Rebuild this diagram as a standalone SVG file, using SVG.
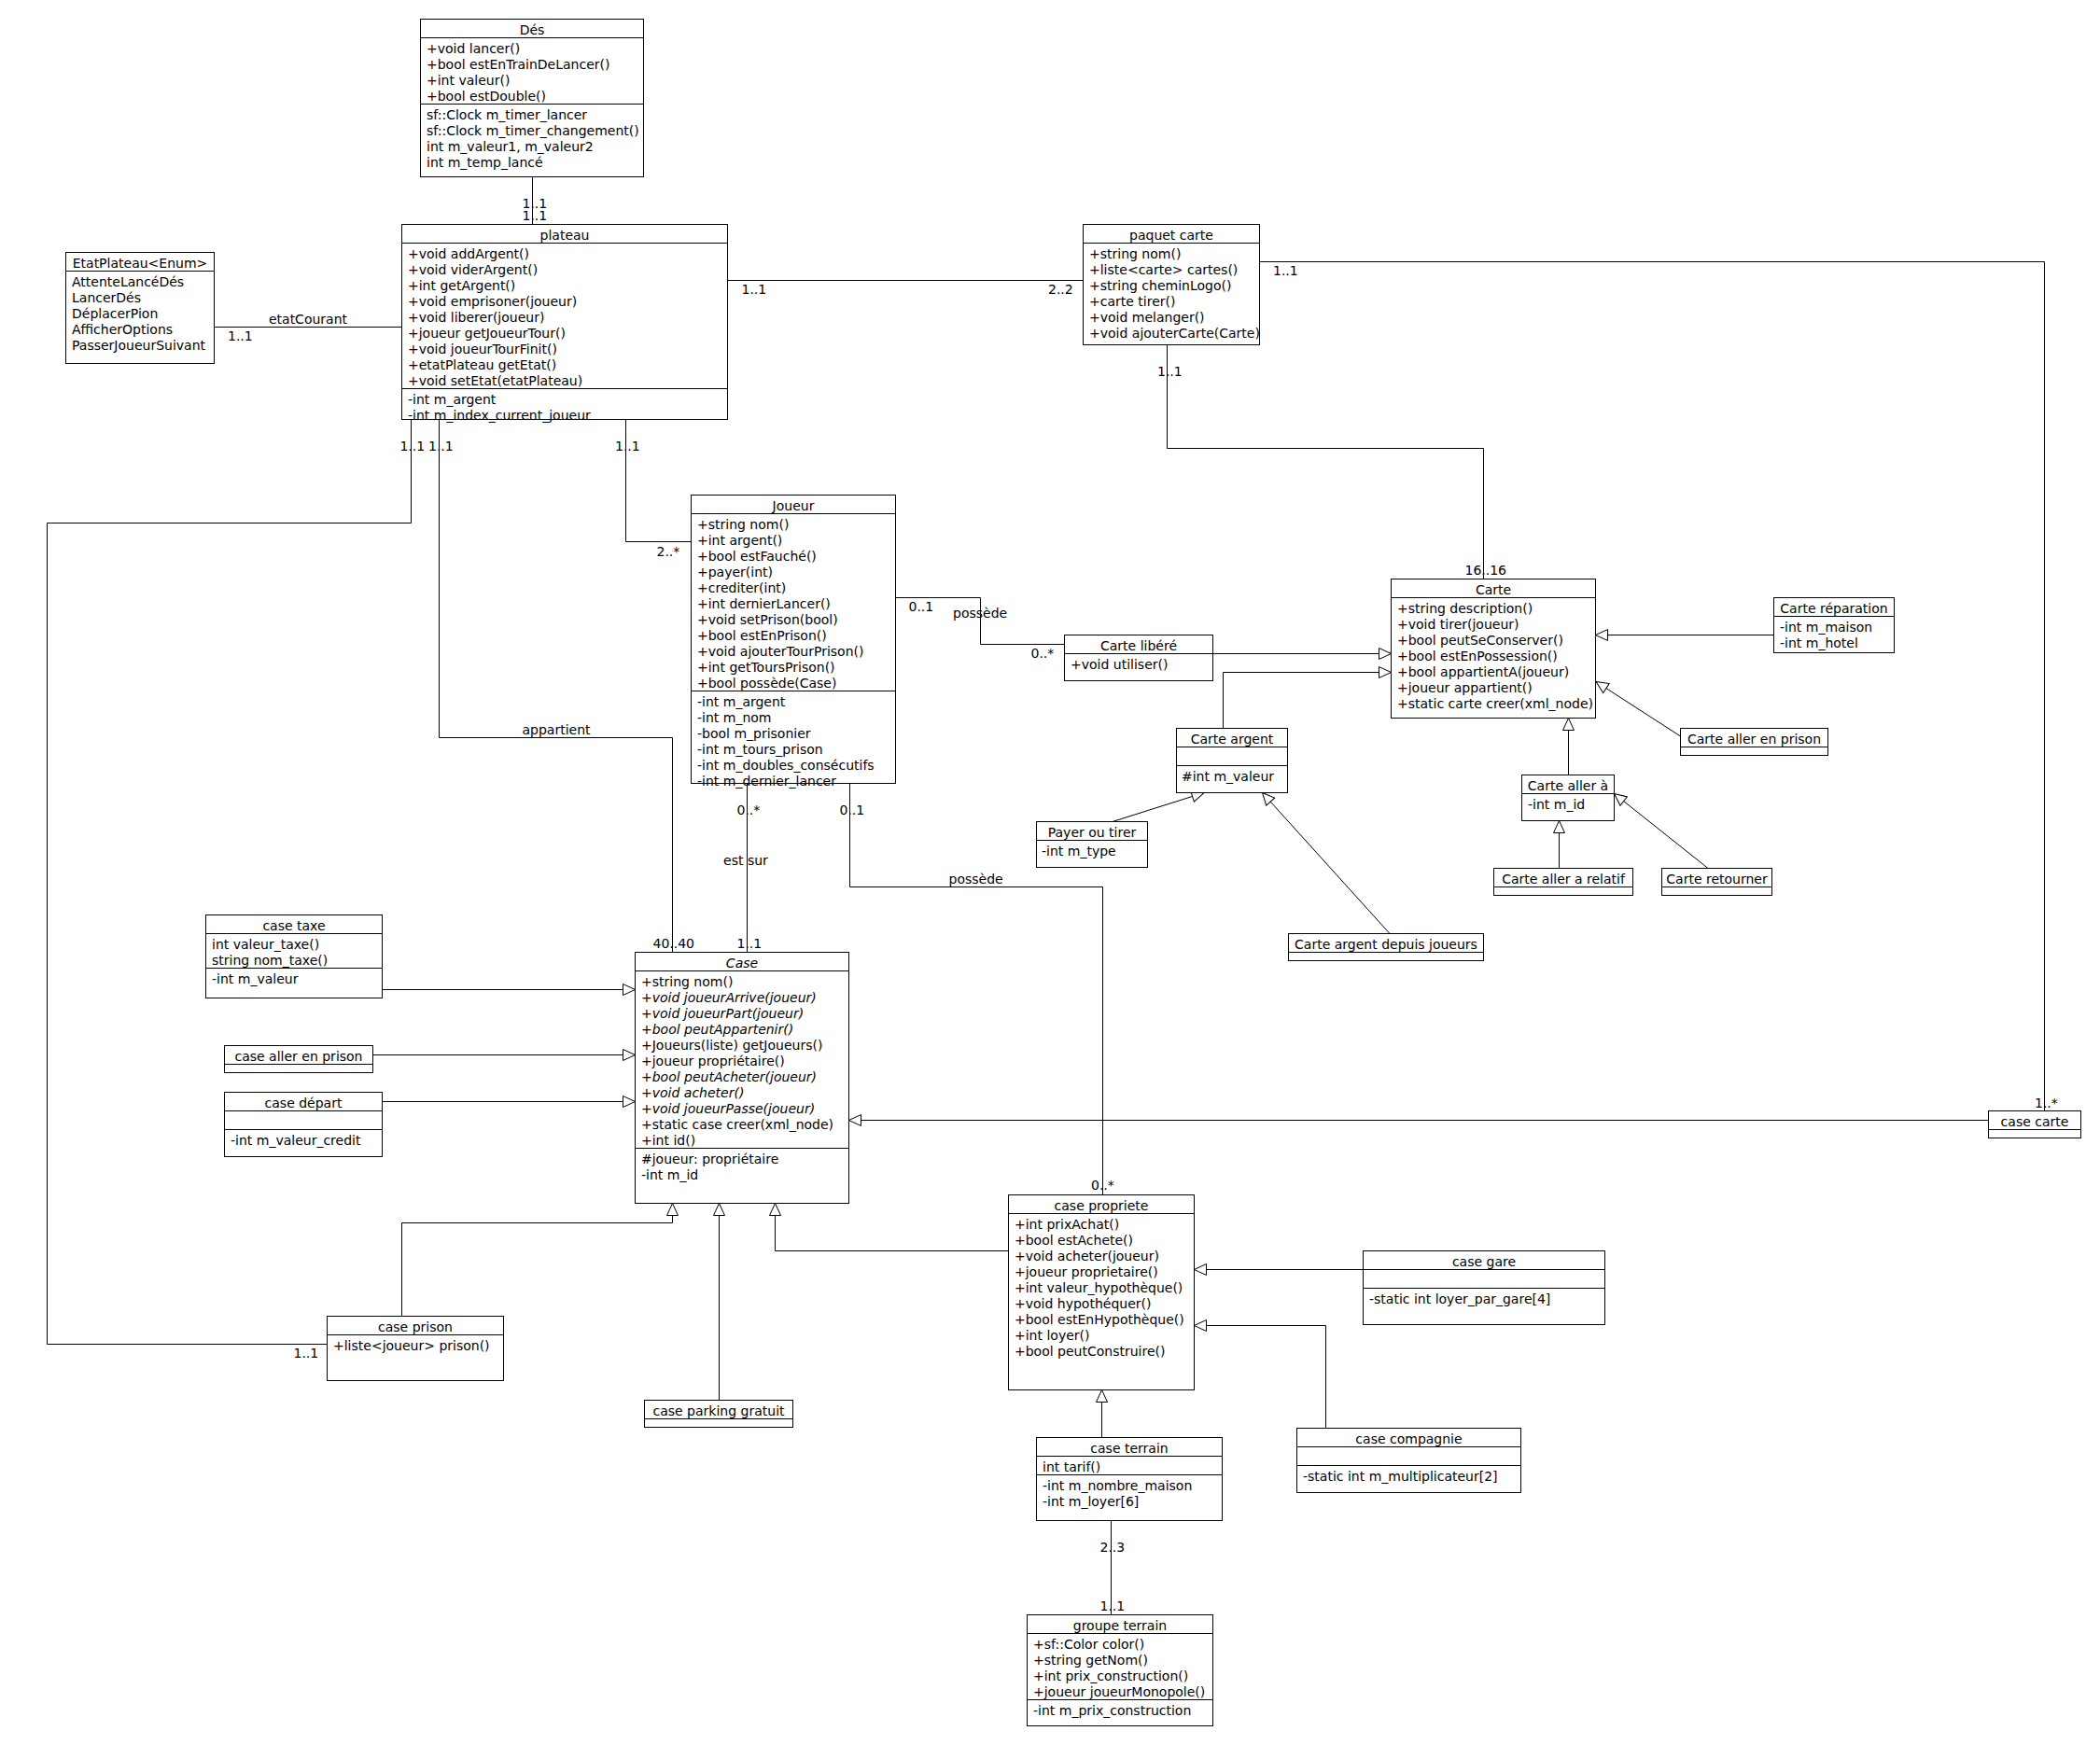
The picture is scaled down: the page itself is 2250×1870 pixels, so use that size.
<svg xmlns="http://www.w3.org/2000/svg" width="2250" height="1870" viewBox="0 0 2250 1870">
<style>
text{font-family:"DejaVu Sans","Liberation Sans",sans-serif;font-size:14px;fill:#000}
.h{text-anchor:middle}
.i{font-style:italic}
.b{fill:#fff;stroke:#000;stroke-width:1}
.sep{fill:none;stroke:#000;stroke-width:1}
.c{fill:none;stroke:#000;stroke-width:1}
.g{fill:none;stroke:#000;stroke-width:1;marker-end:url(#tri)}
</style>
<defs>
<marker id="tri" markerUnits="userSpaceOnUse" viewBox="-1 -1 16 14" markerWidth="16" markerHeight="14" refX="13" refY="6" orient="auto">
<path d="M0,0 L13,6 L0,12 Z" fill="#fff" stroke="#000" stroke-width="1"/>
</marker>
</defs>
<rect x="0" y="0" width="2250" height="1870" fill="#fff" stroke="none"/>

<g id="connectors">
<!-- Dés - plateau -->
<path class="c" d="M570.5,189.5 V240.5"/>
<text x="559.5" y="222.5">1..1</text>
<text x="559.5" y="235.5">1..1</text>
<!-- EtatPlateau - plateau -->
<path class="c" d="M229.5,350.5 H430.5"/>
<text class="h" x="330" y="346.5">etatCourant</text>
<text x="244" y="364.5">1..1</text>
<!-- plateau - paquet carte -->
<path class="c" d="M779.5,300.5 H1160.5"/>
<text x="794.5" y="315">1..1</text>
<text x="1123" y="315">2..2</text>
<!-- paquet carte - case carte -->
<path class="c" d="M1349.5,280.5 H2190.5 V1190.5"/>
<text x="1364" y="294.5">1..1</text>
<text x="2180" y="1187">1..*</text>
<!-- paquet carte - Carte -->
<path class="c" d="M1250.5,369.5 V480.5 H1589.5 V620.5"/>
<text x="1240" y="403">1..1</text>
<text x="1569.5" y="616">16..16</text>
<!-- plateau - case prison -->
<path class="c" d="M440.5,449.5 V560.5 H50.5 V1440.5 H350.5"/>
<text x="428.5" y="482.5">1..1</text>
<text x="314.5" y="1455">1..1</text>
<!-- plateau - Case (appartient) -->
<path class="c" d="M470.5,449.5 V790.5 H720.5 V1020.5"/>
<text x="459" y="482.5">1..1</text>
<text class="h" x="596" y="786.5">appartient</text>
<text x="699.5" y="1015.5">40..40</text>
<!-- plateau - Joueur -->
<path class="c" d="M670.5,449.5 V580.5 H740.5"/>
<text x="659" y="482.5">1..1</text>
<text x="703.5" y="595.5">2..*</text>
<!-- Joueur - Case (est sur) -->
<path class="c" d="M800.5,839.5 V1020.5"/>
<text x="789.5" y="872.5">0..*</text>
<text class="h" x="799" y="927">est sur</text>
<text x="789.5" y="1015.5">1..1</text>
<!-- Joueur - case propriete (possède) -->
<path class="c" d="M910.5,839.5 V950.5 H1181.5 V1280.5"/>
<text x="899.5" y="873">0..1</text>
<text x="1016.5" y="947">possède</text>
<text x="1169" y="1275">0..*</text>
<!-- Joueur - Carte libéré (possède) -->
<path class="c" d="M959.5,640.5 H1050.5 V690.5 H1140.5"/>
<text x="973.5" y="655">0..1</text>
<text x="1021" y="662">possède</text>
<text x="1104.5" y="705">0..*</text>
<!-- Carte inheritance -->
<path class="g" d="M1299.5,700.5 H1490.5"/>
<path class="g" d="M1310.5,780.5 V720.5 H1490.5"/>
<path class="g" d="M1900.5,680.5 H1709.5"/>
<path class="g" d="M1800.5,789 L1710,730.5"/>
<path class="g" d="M1680.5,830.5 V769.5"/>
<path class="g" d="M1670.5,930.5 V879.5"/>
<path class="g" d="M1830,930.5 L1729.5,850.5"/>
<path class="g" d="M1192,880.5 L1290,849.5"/>
<path class="g" d="M1489,1000.5 L1352.5,849.5"/>
<!-- Case inheritance -->
<path class="g" d="M409.5,1060.5 H680.5"/>
<path class="g" d="M399.5,1130.5 H680.5"/>
<path class="g" d="M409.5,1180.5 H680.5"/>
<path class="g" d="M2130.5,1200.5 H909.5"/>
<path class="g" d="M430.5,1410.5 V1310.5 H720.5 V1289.5"/>
<path class="g" d="M770.5,1500.5 V1289.5"/>
<path class="g" d="M1080.5,1340.5 H830.5 V1289.5"/>
<!-- case propriete inheritance -->
<path class="g" d="M1460.5,1360.5 H1279.5"/>
<path class="g" d="M1420.5,1530.5 V1420.5 H1279.5"/>
<path class="g" d="M1180.5,1540.5 V1489.5"/>
<!-- case terrain - groupe terrain -->
<path class="c" d="M1190.5,1629.5 V1730.5"/>
<text x="1178.5" y="1662.5">2..3</text>
<text x="1178.5" y="1725.5">1..1</text>
</g>

<g id="des">
<rect class="b" x="450.5" y="20.5" width="239" height="169"/>
<path class="sep" d="M450.5,40.5 H689.5 M450.5,111.5 H689.5"/>
<text class="h" x="570" y="37">Dés</text>
<text x="457" y="57">+void lancer()</text>
<text x="457" y="74">+bool estEnTrainDeLancer()</text>
<text x="457" y="91">+int valeur()</text>
<text x="457" y="108">+bool estDouble()</text>
<text x="457" y="128">sf::Clock m_timer_lancer</text>
<text x="457" y="145">sf::Clock m_timer_changement()</text>
<text x="457" y="162">int m_valeur1, m_valeur2</text>
<text x="457" y="179">int m_temp_lancé</text>
</g>

<g id="etatplateau">
<rect class="b" x="70.5" y="270.5" width="159" height="119"/>
<path class="sep" d="M70.5,290.5 H229.5"/>
<text class="h" x="150" y="287">EtatPlateau&lt;Enum&gt;</text>
<text x="77" y="307">AttenteLancéDés</text>
<text x="77" y="324">LancerDés</text>
<text x="77" y="341">DéplacerPion</text>
<text x="77" y="358">AfficherOptions</text>
<text x="77" y="375">PasserJoueurSuivant</text>
</g>

<g id="plateau">
<rect class="b" x="430.5" y="240.5" width="349" height="209"/>
<path class="sep" d="M430.5,260.5 H779.5 M430.5,416.5 H779.5"/>
<text class="h" x="605" y="257">plateau</text>
<text x="437" y="277">+void addArgent()</text>
<text x="437" y="294">+void viderArgent()</text>
<text x="437" y="311">+int getArgent()</text>
<text x="437" y="328">+void emprisoner(joueur)</text>
<text x="437" y="345">+void liberer(joueur)</text>
<text x="437" y="362">+joueur getJoueurTour()</text>
<text x="437" y="379">+void joueurTourFinit()</text>
<text x="437" y="396">+etatPlateau getEtat()</text>
<text x="437" y="413">+void setEtat(etatPlateau)</text>
<text x="437" y="433">-int m_argent</text>
<text x="437" y="450">-int m_index_current_joueur</text>
</g>

<g id="paquet-carte">
<rect class="b" x="1160.5" y="240.5" width="189" height="129"/>
<path class="sep" d="M1160.5,260.5 H1349.5"/>
<text class="h" x="1255" y="257">paquet carte</text>
<text x="1167" y="277">+string nom()</text>
<text x="1167" y="294">+liste&lt;carte&gt; cartes()</text>
<text x="1167" y="311">+string cheminLogo()</text>
<text x="1167" y="328">+carte tirer()</text>
<text x="1167" y="345">+void melanger()</text>
<text x="1167" y="362">+void ajouterCarte(Carte)</text>
</g>

<g id="joueur">
<rect class="b" x="740.5" y="530.5" width="219" height="309"/>
<path class="sep" d="M740.5,550.5 H959.5 M740.5,740.5 H959.5"/>
<text class="h" x="850" y="547">Joueur</text>
<text x="747" y="567">+string nom()</text>
<text x="747" y="584">+int argent()</text>
<text x="747" y="601">+bool estFauché()</text>
<text x="747" y="618">+payer(int)</text>
<text x="747" y="635">+crediter(int)</text>
<text x="747" y="652">+int dernierLancer()</text>
<text x="747" y="669">+void setPrison(bool)</text>
<text x="747" y="686">+bool estEnPrison()</text>
<text x="747" y="703">+void ajouterTourPrison()</text>
<text x="747" y="720">+int getToursPrison()</text>
<text x="747" y="737">+bool possède(Case)</text>
<text x="747" y="757">-int m_argent</text>
<text x="747" y="774">-int m_nom</text>
<text x="747" y="791">-bool m_prisonier</text>
<text x="747" y="808">-int m_tours_prison</text>
<text x="747" y="825">-int m_doubles_consécutifs</text>
<text x="747" y="842">-int m_dernier_lancer</text>
</g>

<g id="carte">
<rect class="b" x="1490.5" y="620.5" width="219" height="149"/>
<path class="sep" d="M1490.5,640.5 H1709.5"/>
<text class="h" x="1600" y="637">Carte</text>
<text x="1497" y="657">+string description()</text>
<text x="1497" y="674">+void tirer(joueur)</text>
<text x="1497" y="691">+bool peutSeConserver()</text>
<text x="1497" y="708">+bool estEnPossession()</text>
<text x="1497" y="725">+bool appartientA(joueur)</text>
<text x="1497" y="742">+joueur appartient()</text>
<text x="1497" y="759">+static carte creer(xml_node)</text>
</g>

<g id="carte-libere">
<rect class="b" x="1140.5" y="680.5" width="159" height="49"/>
<path class="sep" d="M1140.5,700.5 H1299.5"/>
<text class="h" x="1220" y="697">Carte libéré</text>
<text x="1147" y="717">+void utiliser()</text>
</g>

<g id="carte-reparation">
<rect class="b" x="1900.5" y="640.5" width="129" height="59"/>
<path class="sep" d="M1900.5,660.5 H2029.5"/>
<text class="h" x="1965" y="657">Carte réparation</text>
<text x="1907" y="677">-int m_maison</text>
<text x="1907" y="694">-int m_hotel</text>
</g>

<g id="carte-argent">
<rect class="b" x="1260.5" y="780.5" width="119" height="69"/>
<path class="sep" d="M1260.5,800.5 H1379.5 M1260.5,820.5 H1379.5"/>
<text class="h" x="1320" y="797">Carte argent</text>
<text x="1266" y="837">#int m_valeur</text>
</g>

<g id="carte-aller-en-prison">
<rect class="b" x="1800.5" y="780.5" width="158" height="29"/>
<path class="sep" d="M1800.5,800.5 H1958.5"/>
<text class="h" x="1879.5" y="797">Carte aller en prison</text>
</g>

<g id="carte-aller-a">
<rect class="b" x="1630.5" y="830.5" width="99" height="49"/>
<path class="sep" d="M1630.5,850.5 H1729.5"/>
<text class="h" x="1680" y="847">Carte aller à</text>
<text x="1637" y="867">-int m_id</text>
</g>

<g id="carte-aller-a-relatif">
<rect class="b" x="1600.5" y="930.5" width="149" height="29"/>
<path class="sep" d="M1600.5,950.5 H1749.5"/>
<text class="h" x="1675" y="947">Carte aller a relatif</text>
</g>

<g id="carte-retourner">
<rect class="b" x="1780.5" y="930.5" width="118" height="29"/>
<path class="sep" d="M1780.5,950.5 H1898.5"/>
<text class="h" x="1839.5" y="947">Carte retourner</text>
</g>

<g id="payer-ou-tirer">
<rect class="b" x="1110.5" y="880.5" width="119" height="49"/>
<path class="sep" d="M1110.5,900.5 H1229.5"/>
<text class="h" x="1170" y="897">Payer ou tirer</text>
<text x="1116" y="917">-int m_type</text>
</g>

<g id="carte-argent-depuis-joueurs">
<rect class="b" x="1380.5" y="1000.5" width="209" height="29"/>
<path class="sep" d="M1380.5,1020.5 H1589.5"/>
<text class="h" x="1485" y="1017">Carte argent depuis joueurs</text>
</g>

<g id="case">
<rect class="b" x="680.5" y="1020.5" width="229" height="269"/>
<path class="sep" d="M680.5,1040.5 H909.5 M680.5,1230.5 H909.5"/>
<text class="h i" x="795" y="1037">Case</text>
<text x="687" y="1057">+string nom()</text>
<text class="i" x="687" y="1074">+void joueurArrive(joueur)</text>
<text class="i" x="687" y="1091">+void joueurPart(joueur)</text>
<text class="i" x="687" y="1108">+bool peutAppartenir()</text>
<text x="687" y="1125">+Joueurs(liste) getJoueurs()</text>
<text x="687" y="1142">+joueur propriétaire()</text>
<text class="i" x="687" y="1159">+bool peutAcheter(joueur)</text>
<text class="i" x="687" y="1176">+void acheter()</text>
<text class="i" x="687" y="1193">+void joueurPasse(joueur)</text>
<text x="687" y="1210">+static case creer(xml_node)</text>
<text x="687" y="1227">+int id()</text>
<text x="687" y="1247">#joueur: propriétaire</text>
<text x="687" y="1264">-int m_id</text>
</g>

<g id="case-taxe">
<rect class="b" x="220.5" y="980.5" width="189" height="89"/>
<path class="sep" d="M220.5,1000.5 H409.5 M220.5,1037.5 H409.5"/>
<text class="h" x="315" y="997">case taxe</text>
<text x="227" y="1016.5">int valeur_taxe()</text>
<text x="227" y="1033.5">string nom_taxe()</text>
<text x="227" y="1054">-int m_valeur</text>
</g>

<g id="case-aller-en-prison">
<rect class="b" x="240.5" y="1120.5" width="159" height="29"/>
<path class="sep" d="M240.5,1140.5 H399.5"/>
<text class="h" x="320" y="1137">case aller en prison</text>
</g>

<g id="case-depart">
<rect class="b" x="240.5" y="1170.5" width="169" height="69"/>
<path class="sep" d="M240.5,1190.5 H409.5 M240.5,1210.5 H409.5"/>
<text class="h" x="325" y="1187">case départ</text>
<text x="247" y="1226.5">-int m_valeur_credit</text>
</g>

<g id="case-carte">
<rect class="b" x="2130.5" y="1190.5" width="99" height="29"/>
<path class="sep" d="M2130.5,1210.5 H2229.5"/>
<text class="h" x="2180" y="1207">case carte</text>
</g>

<g id="case-prison">
<rect class="b" x="350.5" y="1410.5" width="189" height="69"/>
<path class="sep" d="M350.5,1430.5 H539.5"/>
<text class="h" x="445" y="1427">case prison</text>
<text x="357" y="1446.5">+liste&lt;joueur&gt; prison()</text>
</g>

<g id="case-parking-gratuit">
<rect class="b" x="690.5" y="1500.5" width="159" height="29"/>
<path class="sep" d="M690.5,1520.5 H849.5"/>
<text class="h" x="770" y="1517">case parking gratuit</text>
</g>

<g id="case-propriete">
<rect class="b" x="1080.5" y="1280.5" width="199" height="209"/>
<path class="sep" d="M1080.5,1300.5 H1279.5"/>
<text class="h" x="1180" y="1297">case propriete</text>
<text x="1087" y="1317">+int prixAchat()</text>
<text x="1087" y="1334">+bool estAchete()</text>
<text x="1087" y="1351">+void acheter(joueur)</text>
<text x="1087" y="1368">+joueur proprietaire()</text>
<text x="1087" y="1385">+int valeur_hypothèque()</text>
<text x="1087" y="1402">+void hypothéquer()</text>
<text x="1087" y="1419">+bool estEnHypothèque()</text>
<text x="1087" y="1436">+int loyer()</text>
<text x="1087" y="1453">+bool peutConstruire()</text>
</g>

<g id="case-gare">
<rect class="b" x="1460.5" y="1340.5" width="259" height="79"/>
<path class="sep" d="M1460.5,1360.5 H1719.5 M1460.5,1380.5 H1719.5"/>
<text class="h" x="1590" y="1357">case gare</text>
<text x="1467" y="1397">-static int loyer_par_gare[4]</text>
</g>

<g id="case-compagnie">
<rect class="b" x="1389.5" y="1530.5" width="240" height="69"/>
<path class="sep" d="M1389.5,1550.5 H1629.5 M1389.5,1570.5 H1629.5"/>
<text class="h" x="1509.5" y="1547">case compagnie</text>
<text x="1396" y="1587">-static int m_multiplicateur[2]</text>
</g>

<g id="case-terrain">
<rect class="b" x="1110.5" y="1540.5" width="199" height="89"/>
<path class="sep" d="M1110.5,1560.5 H1309.5 M1110.5,1580.5 H1309.5"/>
<text class="h" x="1210" y="1557">case terrain</text>
<text x="1117" y="1576.5">int tarif()</text>
<text x="1117" y="1597">-int m_nombre_maison</text>
<text x="1117" y="1614">-int m_loyer[6]</text>
</g>

<g id="groupe-terrain">
<rect class="b" x="1100.5" y="1730.5" width="199" height="119"/>
<path class="sep" d="M1100.5,1750.5 H1299.5 M1100.5,1821.5 H1299.5"/>
<text class="h" x="1200" y="1747">groupe terrain</text>
<text x="1107" y="1767">+sf::Color color()</text>
<text x="1107" y="1784">+string getNom()</text>
<text x="1107" y="1801">+int prix_construction()</text>
<text x="1107" y="1818">+joueur joueurMonopole()</text>
<text x="1107" y="1838">-int m_prix_construction</text>
</g>
</svg>
